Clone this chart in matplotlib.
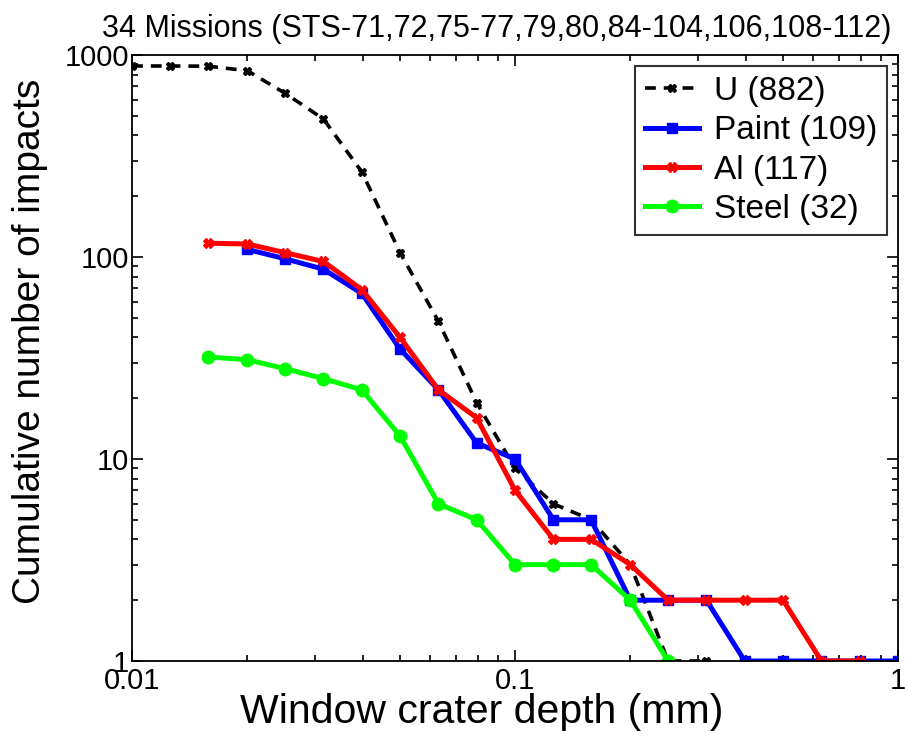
import matplotlib
matplotlib.use("Agg")
import matplotlib.pyplot as plt
from matplotlib.ticker import NullFormatter

plt.rcParams['font.family'] = ['Liberation Sans', 'DejaVu Sans']

# crater depth bins (mm)
depth = [0.01, 0.0126, 0.0158, 0.02, 0.0251, 0.0316, 0.0398, 0.0501, 0.0631,
         0.0794, 0.1, 0.126, 0.158, 0.2, 0.251, 0.316, 0.398, 0.501, 0.631,
         0.794, 1.0]

# cumulative counts
u_depth = depth[:16]
u_count = [882, 882, 880, 836, 646, 482, 264, 105, 48, 19, 9, 6, 5, 3, 1, 1]

paint_depth = depth[3:]
paint_count = [109, 98, 87, 66, 35, 22, 12, 10, 5, 5, 2, 2, 2, 1, 1, 1, 1, 1]

al_depth = depth[2:20]
al_count = [117, 116, 105, 95, 69, 40, 22, 16, 7, 4, 4, 3, 2, 2, 2, 2, 1, 1]

steel_depth = depth[2:15]
steel_count = [32, 31, 28, 25, 22, 13, 6, 5, 3, 3, 3, 2, 1]

fig = plt.figure(figsize=(9.05, 7.36), dpi=100)
ax = fig.add_axes([0.1459, 0.1019, 0.8464, 0.8234])

ax.plot(u_depth, u_count, 'k--', marker='X', ms=6, lw=2.6, dashes=(3, 2.2),
        label='U (882)')
ax.plot(paint_depth, paint_count, color='#0000ff', marker='s', ms=7.5, lw=3.6,
        label='Paint (109)')
ax.plot(al_depth, al_count, color='#ff0000', marker='X', ms=7, lw=3.6,
        label='Al (117)')
ax.plot(steel_depth, steel_count, color='#00ff00', marker='o', ms=9, lw=3.6,
        label='Steel (32)')

ax.set_xscale('log')
ax.set_yscale('log')
ax.set_xlim(0.01, 1)
ax.set_ylim(1, 1000)

ax.set_xticks([0.01, 0.1, 1])
ax.set_xticklabels(['0.01', '0.1', '1'])
ax.set_yticks([1, 10, 100, 1000])
ax.set_yticklabels(['1', '10', '100', '1000'])
ax.xaxis.set_minor_formatter(NullFormatter())
ax.yaxis.set_minor_formatter(NullFormatter())

ax.tick_params(which='both', direction='in', top=True, right=True,
               labelsize=21, width=1.2, pad=2)
ax.tick_params(axis='x', which='major', pad=4)
ax.tick_params(which='major', length=8)
ax.tick_params(which='minor', length=4)
for s in ax.spines.values():
    s.set_linewidth(1.3)

ax.set_xlabel('Window crater depth (mm)', fontsize=29.5, labelpad=-1, x=0.457)
ax.set_ylabel('Cumulative number of impacts', fontsize=28, labelpad=12, y=0.528)
ax.set_title('34 Missions (STS-71,72,75-77,79,80,84-104,106,108-112)',
             fontsize=22, pad=13, x=0.476)

leg = ax.legend(loc='upper right', fontsize=24, frameon=True, fancybox=False,
                edgecolor='black', handlelength=1.6, handletextpad=0.45,
                borderpad=0.3, labelspacing=0.25, borderaxespad=0.33)
leg.get_frame().set_linewidth(1.5)

fig.savefig('out.png', dpi=100)
